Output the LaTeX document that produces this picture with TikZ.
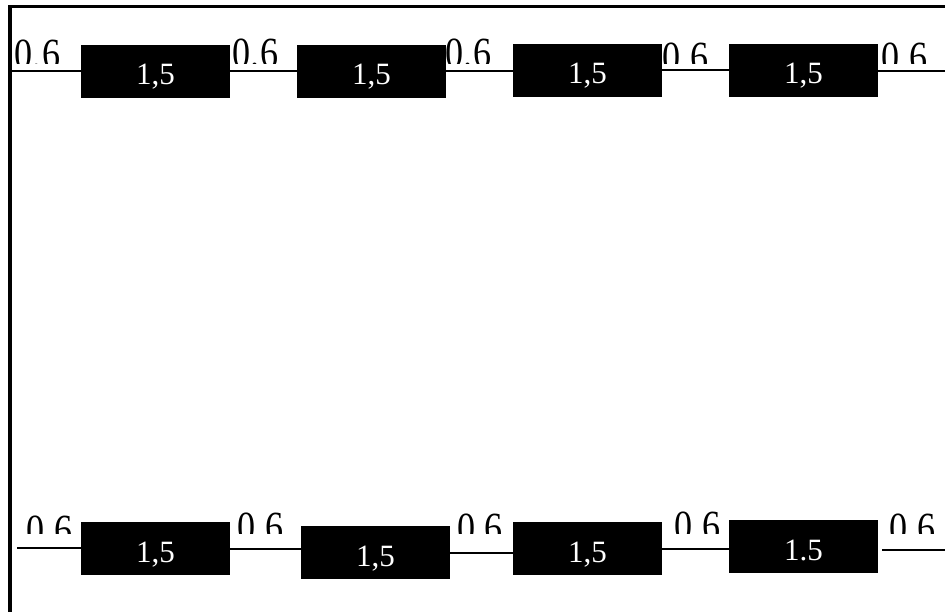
\documentclass[tikz,border=0pt]{standalone}
\usepackage{fontspec}
\setmainfont{Liberation Serif}
\usetikzlibrary{positioning}
\newcommand{\squeezed}[1]{\scalebox{0.84}[1]{#1}}
\tikzset{
    linkbar/.style={
        fill=black,
        text=white,
        inner sep=0pt,
        minimum width=149pt,
        minimum height=53pt,
        text height=27pt,
        text depth=0pt,
        font=\fontsize{31}{33}\selectfont
    },
    gaplabel/.style={
        anchor=base,
        inner sep=0pt,
        font=\fontsize{43}{46}\selectfont
    },
    gapline/.style={
        draw=black,
        line width=2pt
    },
    frameline/.style={
        draw=black,
        line width=3.5pt
    }
}
\begin{document}
\begin{tikzpicture}[x=1pt,y=-1pt]
    \useasboundingbox (0,0) rectangle (945,612);

    % frame
    \draw[frameline] (945,6.5) -- (10,6.5) -- (10,612);

    % upper row
    \node[linkbar] (top1) at (155.5,71.5) {1,5};
    \node[linkbar] (top2) at (371.5,71.5) {1,5};
    \node[linkbar] (top3) at (587.5,70.5) {1,5};
    \node[linkbar] (top4) at (803.5,70.5) {1,5};
    \coordinate (topStart) at (10,71);
    \coordinate (topEnd) at (945,71);

    \draw[gapline] (topStart) -- (topStart -| top1.west);
    \draw[gapline] (top1.east) -- (top1.east -| top2.west);
    \draw[gapline] (top2.east) -- (top2.east -| top3.west);
    \draw[gapline] (top3.east) -- (top3.east -| top4.west);
    \draw[gapline] (top4.east |- topEnd) -- (topEnd);

    \begin{scope}
        \clip (0,0) rectangle (945,63.5);
        \node[gaplabel] (topGap1) at (37.5,68.5) {\squeezed{0,6}};
        \node[gaplabel] (topGap2) at (255.5,67.5) {\squeezed{0.6}};
        \node[gaplabel] (topGap3) at (468.5,67.5) {\squeezed{0.6}};
        \node[gaplabel] (topGap4) at (685.5,72) {\squeezed{0,6}};
        \node[gaplabel] (topGap5) at (904.5,72) {\squeezed{0,6}};
    \end{scope}

    % lower row
    \node[linkbar] (low1) at (155.5,548.5) {1,5};
    \node[linkbar] (low2) at (375.5,552.5) {1,5};
    \node[linkbar] (low3) at (587.5,548.5) {1,5};
    \node[linkbar] (low4) at (803.5,546.5) {1.5};
    \coordinate (lowStart) at (17,548);
    \coordinate (lowEnd) at (945,550);

    \draw[gapline] (lowStart) -- (lowStart -| low1.west);
    \draw[gapline] (low1.east) -- (low1.east -| low2.west);
    \draw[gapline] (low2.east) -- (low2.east -| low3.west);
    \draw[gapline] (low3.east) -- (low3.east -| low4.west);
    \draw[gapline] ([xshift=4pt]low4.east |- lowEnd) -- (lowEnd);

    \begin{scope}
        \clip (0,500) rectangle (945,533);
        \node[gaplabel] (lowGap1) at (49.5,544) {\squeezed{0,6}};
        \node[gaplabel] (lowGap2) at (260.5,541) {\squeezed{0,6}};
        \node[gaplabel] (lowGap3) at (480,542) {\squeezed{0,6}};
        \node[gaplabel] (lowGap4) at (697.5,540) {\squeezed{0,6}};
        \node[gaplabel] (lowGap5) at (912.5,542) {\squeezed{0,6}};
    \end{scope}
\end{tikzpicture}
\end{document}
